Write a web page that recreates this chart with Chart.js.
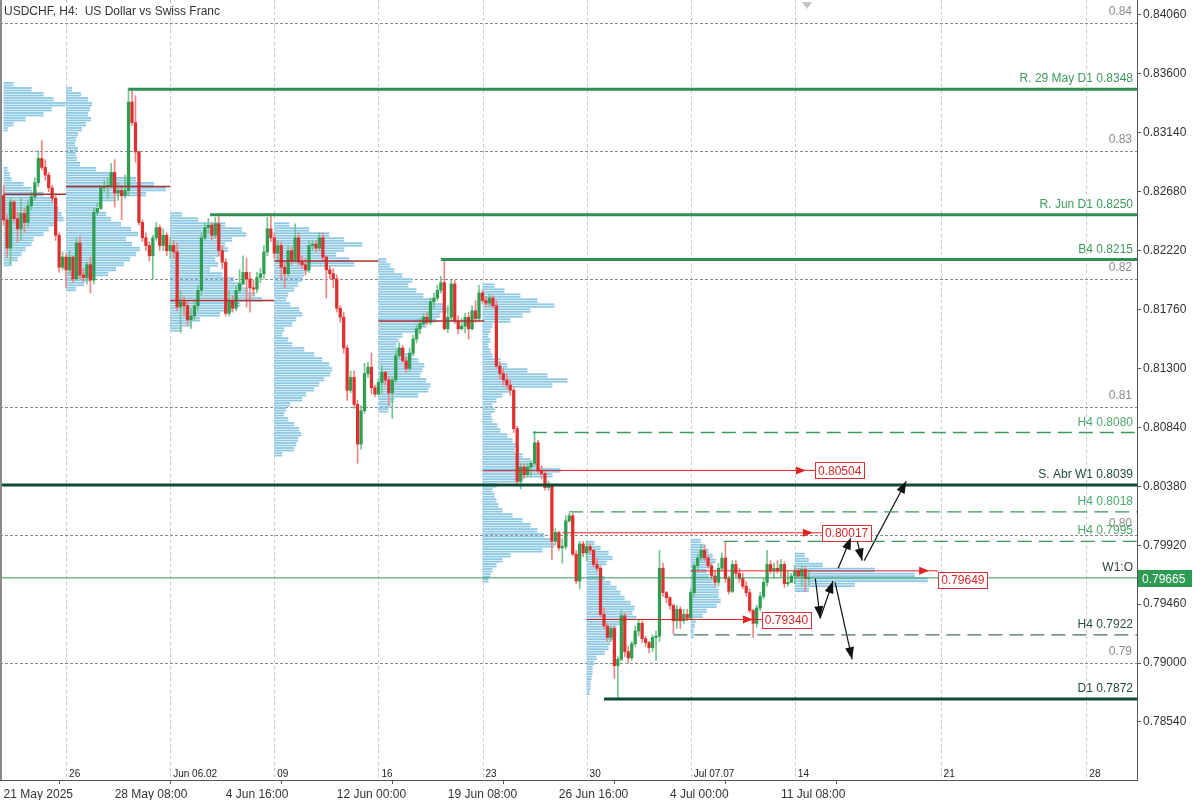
<!DOCTYPE html>
<html>
<head>
<meta charset="utf-8">
<title>USDCHF H4</title>
<script src="https://cdn.jsdelivr.net/npm/chart.js@4.4.0/dist/chart.umd.min.js"></script>
<style>
  html, body { margin: 0; padding: 0; background: #fff; }
  #wrap { width: 1200px; height: 800px; }
</style>
</head>
<body>
<div id="wrap"><canvas id="chart" width="1200" height="800"></canvas></div>
<script>
// ---- candles (H4 bars, index 0 = 21 May 2025 00:00) ----
const firstOpen = 0.8265;
const closes = [
  0.8246, 0.8224, 0.8260, 0.8247, 0.8239, 0.8251, 0.8244, 0.8257, 0.8264, 0.8275,
  0.8294, 0.8287, 0.8281, 0.8271, 0.8263, 0.8234, 0.8209, 0.8217, 0.8207, 0.8217,
  0.8200, 0.8228, 0.8203, 0.8201, 0.8211, 0.8199, 0.8252, 0.8255, 0.8271, 0.8272,
  0.8273, 0.8283, 0.8267, 0.8269, 0.8265, 0.8269, 0.8338, 0.8322, 0.8299, 0.8244,
  0.8232, 0.8226, 0.8218, 0.8232, 0.8240, 0.8226, 0.8234, 0.8222, 0.8226, 0.8221,
  0.8178, 0.8182, 0.8179, 0.8168, 0.8171, 0.8179, 0.8191, 0.8232, 0.8240, 0.8242,
  0.8234, 0.8243, 0.8222, 0.8213, 0.8173, 0.8183, 0.8177, 0.8191, 0.8196, 0.8205,
  0.8200, 0.8193, 0.8192, 0.8201, 0.8204, 0.8221, 0.8239, 0.8232, 0.8220, 0.8226,
  0.8209, 0.8204, 0.8222, 0.8214, 0.8232, 0.8213, 0.8211, 0.8207, 0.8226, 0.8227,
  0.8224, 0.8232, 0.8217, 0.8207, 0.8204, 0.8200, 0.8177, 0.8170, 0.8146, 0.8113,
  0.8123, 0.8102, 0.8071, 0.8097, 0.8126, 0.8131, 0.8115, 0.8110, 0.8119, 0.8127,
  0.8121, 0.8111, 0.8121, 0.8140, 0.8146, 0.8136, 0.8130, 0.8142, 0.8153, 0.8161,
  0.8165, 0.8170, 0.8166, 0.8182, 0.8185, 0.8191, 0.8197, 0.8161, 0.8170, 0.8196,
  0.8167, 0.8161, 0.8163, 0.8170, 0.8161, 0.8175, 0.8169, 0.8189, 0.8183, 0.8181,
  0.8185, 0.8179, 0.8132, 0.8126, 0.8121, 0.8117, 0.8113, 0.8083, 0.8042, 0.8053,
  0.8047, 0.8053, 0.8056, 0.8072, 0.8050, 0.8048, 0.8037, 0.8038, 0.7995, 0.8002,
  0.7990, 0.7991, 0.8011, 0.8015, 0.7985, 0.7964, 0.7993, 0.7986, 0.7991, 0.7988,
  0.7977, 0.7974, 0.7938, 0.7929, 0.7920, 0.7927, 0.7898, 0.7903, 0.7937, 0.7909,
  0.7904, 0.7915, 0.7925, 0.7931, 0.7919, 0.7916, 0.7912, 0.7920, 0.7921, 0.7974,
  0.7955, 0.7951, 0.7945, 0.7933, 0.7942, 0.7933, 0.7938, 0.7935, 0.7955, 0.7976,
  0.7982, 0.7988, 0.7982, 0.7976, 0.7968, 0.7963, 0.7974, 0.7982, 0.7966, 0.7956,
  0.7977, 0.7970, 0.7966, 0.7960, 0.7955, 0.7941, 0.7931, 0.7943, 0.7952, 0.7963,
  0.7977, 0.7972, 0.7974, 0.7972, 0.7977, 0.7962, 0.7963, 0.7968, 0.7972, 0.7968,
  0.7973, 0.7966, 0.79665
];
const highs = [
  0.8273, 0.8250, 0.8263, 0.8261, 0.8252, 0.8263, 0.8255, 0.8261, 0.8268, 0.8279,
  0.8300, 0.8308, 0.8293, 0.8283, 0.8273, 0.8265, 0.8236, 0.8221, 0.8220, 0.8222,
  0.8218, 0.8232, 0.8233, 0.8208, 0.8213, 0.8217, 0.8255, 0.8259, 0.8273, 0.8277,
  0.8279, 0.8290, 0.8293, 0.8275, 0.8273, 0.8281, 0.8349, 0.8348, 0.8343, 0.8300,
  0.8246, 0.8236, 0.8229, 0.8234, 0.8244, 0.8242, 0.8239, 0.8236, 0.8232, 0.8230,
  0.8228, 0.8191, 0.8186, 0.8183, 0.8177, 0.8183, 0.8195, 0.8236, 0.8244, 0.8247,
  0.8244, 0.8248, 0.8250, 0.8226, 0.8216, 0.8191, 0.8187, 0.8195, 0.8207, 0.8218,
  0.8216, 0.8205, 0.8199, 0.8205, 0.8208, 0.8226, 0.8248, 0.8251, 0.8236, 0.8230,
  0.8229, 0.8214, 0.8226, 0.8225, 0.8243, 0.8236, 0.8218, 0.8216, 0.8230, 0.8230,
  0.8230, 0.8236, 0.8236, 0.8218, 0.8210, 0.8208, 0.8203, 0.8179, 0.8174, 0.8148,
  0.8128, 0.8128, 0.8105, 0.8101, 0.8134, 0.8135, 0.8142, 0.8117, 0.8122, 0.8132,
  0.8128, 0.8124, 0.8124, 0.8144, 0.8150, 0.8148, 0.8139, 0.8146, 0.8156, 0.8164,
  0.8169, 0.8173, 0.8174, 0.8185, 0.8189, 0.8195, 0.8202, 0.8216, 0.8179, 0.8199,
  0.8199, 0.8171, 0.8169, 0.8173, 0.8174, 0.8179, 0.8183, 0.8195, 0.8191, 0.8186,
  0.8188, 0.8187, 0.8183, 0.8135, 0.8130, 0.8126, 0.8121, 0.8115, 0.8085, 0.8056,
  0.8056, 0.8056, 0.8058, 0.8081, 0.8074, 0.8054, 0.8050, 0.8042, 0.8038, 0.8005,
  0.8003, 0.7997, 0.8015, 0.8017, 0.8017, 0.7988, 0.7995, 0.7995, 0.7995, 0.7993,
  0.7989, 0.7982, 0.7976, 0.7943, 0.7931, 0.7929, 0.7929, 0.7905, 0.7941, 0.7939,
  0.7913, 0.7917, 0.7929, 0.7934, 0.7933, 0.7921, 0.7917, 0.7922, 0.7925, 0.7988,
  0.7978, 0.7956, 0.7952, 0.7946, 0.7945, 0.7944, 0.7942, 0.7942, 0.7958, 0.7978,
  0.7985, 0.7992, 0.7992, 0.7984, 0.7978, 0.7972, 0.7978, 0.7986, 0.7995, 0.7968,
  0.7980, 0.7980, 0.7974, 0.7970, 0.7964, 0.7958, 0.7942, 0.7945, 0.7955, 0.7966,
  0.7988, 0.7980, 0.7978, 0.7980, 0.7981, 0.7979, 0.7972, 0.7970, 0.7976, 0.7974,
  0.7976, 0.7975, 0.7972
];
const lows = [
  0.8242, 0.8217, 0.8211, 0.8244, 0.8229, 0.8230, 0.8236, 0.8241, 0.8254, 0.8261,
  0.8272, 0.8285, 0.8277, 0.8268, 0.8260, 0.8230, 0.8205, 0.8207, 0.8193, 0.8203,
  0.8197, 0.8199, 0.8200, 0.8197, 0.8196, 0.8189, 0.8196, 0.8250, 0.8254, 0.8268,
  0.8263, 0.8271, 0.8256, 0.8261, 0.8246, 0.8263, 0.8265, 0.8320, 0.8291, 0.8242,
  0.8229, 0.8222, 0.8214, 0.8200, 0.8230, 0.8222, 0.8222, 0.8218, 0.8216, 0.8216,
  0.8175, 0.8158, 0.8171, 0.8164, 0.8161, 0.8168, 0.8175, 0.8187, 0.8230, 0.8236,
  0.8230, 0.8232, 0.8218, 0.8208, 0.8171, 0.8171, 0.8174, 0.8175, 0.8189, 0.8195,
  0.8178, 0.8174, 0.8187, 0.8189, 0.8197, 0.8200, 0.8218, 0.8229, 0.8216, 0.8214,
  0.8200, 0.8193, 0.8202, 0.8211, 0.8213, 0.8211, 0.8208, 0.8203, 0.8205, 0.8222,
  0.8221, 0.8222, 0.8214, 0.8185, 0.8200, 0.8193, 0.8174, 0.8166, 0.8142, 0.8105,
  0.8111, 0.8099, 0.8056, 0.8067, 0.8095, 0.8123, 0.8110, 0.8108, 0.8109, 0.8110,
  0.8117, 0.8101, 0.8091, 0.8119, 0.8138, 0.8135, 0.8127, 0.8128, 0.8140, 0.8150,
  0.8157, 0.8163, 0.8164, 0.8164, 0.8177, 0.8183, 0.8189, 0.8160, 0.8158, 0.8167,
  0.8165, 0.8157, 0.8160, 0.8158, 0.8153, 0.8160, 0.8166, 0.8167, 0.8181, 0.8178,
  0.8178, 0.8177, 0.8130, 0.8122, 0.8117, 0.8114, 0.8109, 0.8080, 0.8040, 0.8036,
  0.8044, 0.8045, 0.8046, 0.8054, 0.8048, 0.8044, 0.8035, 0.8035, 0.7981, 0.7992,
  0.7988, 0.7978, 0.7989, 0.8010, 0.7984, 0.7962, 0.7958, 0.7983, 0.7980, 0.7985,
  0.7975, 0.7972, 0.7936, 0.7927, 0.7917, 0.7917, 0.7888, 0.7873, 0.7902, 0.7905,
  0.7900, 0.7902, 0.7913, 0.7921, 0.7916, 0.7913, 0.7908, 0.7909, 0.7902, 0.7917,
  0.7952, 0.7947, 0.7942, 0.7923, 0.7927, 0.7927, 0.7931, 0.7933, 0.7934, 0.7952,
  0.7972, 0.7980, 0.7980, 0.7974, 0.7966, 0.7960, 0.7960, 0.7972, 0.7963, 0.7954,
  0.7955, 0.7967, 0.7963, 0.7958, 0.7952, 0.7939, 0.7920, 0.7928, 0.7941, 0.7950,
  0.7960, 0.7970, 0.7966, 0.7970, 0.7967, 0.7959, 0.7960, 0.7963, 0.7962, 0.7966,
  0.7960, 0.7956, 0.7961
];
const opens = closes.map((c, i) => (i === 0 ? firstOpen : closes[i - 1]));

// ---- axes ----
const timeTicks = [0, 32, 64, 96, 128, 160, 192, 224];
const timeLabels = ['21 May 2025', '28 May 08:00', '4 Jun 16:00', '12 Jun 00:00', '19 Jun 08:00', '26 Jun 16:00', '4 Jul 00:00', '11 Jul 08:00'];
const weekStarts = [18, 48, 78, 108, 138, 168, 198, 228, 270, 312];
const weekLabels = ['26', 'Jun 06.02', '09', '16', '23', '30', 'Jul 07.07', '14', '21', '28'];
const priceTicks = [0.8406, 0.8360, 0.8314, 0.8268, 0.8222, 0.8176, 0.8130, 0.8084, 0.8038, 0.7992, 0.7946, 0.7900, 0.7854];
const roundLevels = [0.84, 0.83, 0.82, 0.81, 0.80, 0.79];
const roundLabels = ['0.84', '0.83', '0.82', '0.81', '0.80', '0.79'];
const lastPrice = 0.79665;

// ---- drawn levels ----
const levelPrices = [0.8348, 0.8250, 0.8215, 0.8080, 0.8039, 0.8018, 0.7995, 0.79665, 0.7922, 0.7872];
const levelStarts = [36, 59.5, 126, 152.5, -3, 163, 207.5, -3, 193, 173];
const levelLabels = ['R. 29 May D1 0.8348', 'R. Jun D1 0.8250', 'B4 0.8215', 'H4 0.8080', 'S. Abr W1 0.8039', 'H4 0.8018', 'H4 0.7995', 'W1:O', 'H4 0.7922', 'D1 0.7872'];
const levelKinds = ['res', 'res', 'res', 'h4', 'sup', 'h4', 'h4', 'open', 'h4dark', 'sup'];

// weekly point of control lines
const pocPrices = [0.8266, 0.8272, 0.8183, 0.8214, 0.8167];
const pocFrom = [0, 18, 48, 78, 108];
const pocTo = [18, 48, 78, 108, 138.5];

// red price markers
const markPrices = [0.80504, 0.80017, 0.7972, 0.79340];
const markLabelPrices = [0.80504, 0.80017, 0.79649, 0.79340];
const markLabels = ['0.80504', '0.80017', '0.79649', '0.79340'];
const markFrom = [138, 161, 198, 168];
const markTo = [233.8, 235.8, 269.3, 218.5];

// projected path arrows [barFrom, priceFrom, barTo, priceTo]
const arrows = [
  [233.9, 0.7966, 235.3, 0.7935],
  [235.3, 0.7935, 239.0, 0.7964],
  [239.6, 0.7963, 244.5, 0.7903],
  [240.5, 0.7974, 244.2, 0.7998],
  [245.9, 0.7996, 247.4, 0.7980],
  [248.0, 0.7980, 260.1, 0.8042]
];

// ---- volume profiles (start bar, top price, volumes per bin from top) ----
const profileStarts = [0, 18, 48, 78, 108, 138, 168, 198, 228];
const profileTops = [0.83536, 0.83497, 0.82519, 0.82441, 0.82160, 0.81964, 0.79954, 0.79970, 0.79861];
const vp1 = [10, 28, 40, 50, 62, 48, 40, 22, 10, 4, 0, 0, 0, 0, 0, 0, 0, 4, 6, 8, 20, 28, 40, 50, 52, 55, 58, 60, 52, 45, 40, 30, 28, 22, 18, 14, 8];
const vp2 = [6, 15, 22, 26, 24, 22, 25, 20, 16, 12, 10, 9, 12, 10, 11, 14, 30, 48, 70, 88, 100, 80, 50, 35, 30, 40, 45, 55, 65, 72, 60, 66, 74, 70, 64, 58, 50, 42, 25, 18, 10];
const vp3 = [12, 28, 55, 72, 76, 62, 55, 58, 50, 45, 48, 40, 52, 64, 72, 78, 85, 92, 70, 62, 50, 30, 22, 12];
const vp4 = [15, 35, 55, 70, 88, 70, 62, 75, 80, 35, 30, 28, 24, 20, 14, 12, 16, 25, 28, 22, 18, 10, 8, 14, 18, 30, 40, 48, 55, 58, 56, 50, 45, 40, 32, 28, 16, 12, 10, 14, 20, 25, 27, 24, 22, 20, 8];
const vp5 = [8, 12, 16, 24, 34, 30, 38, 45, 55, 65, 70, 62, 58, 48, 42, 24, 20, 18, 26, 34, 40, 46, 44, 42, 48, 52, 50, 40, 16, 12, 10];
const vp6 = [12, 22, 38, 55, 72, 48, 40, 28, 10, 8, 6, 8, 6, 8, 10, 18, 25, 45, 65, 85, 70, 28, 20, 14, 10, 12, 9, 10, 15, 18, 25, 30, 35, 32, 40, 48, 55, 78, 70, 40, 14, 10, 12, 14, 16, 20, 30, 40, 48, 55, 62, 70, 72, 60, 28, 20, 14, 10, 8, 6];
const vp7 = [8, 14, 22, 26, 20, 14, 12, 18, 24, 30, 34, 38, 44, 48, 46, 50, 34, 30, 30, 28, 24, 22, 18, 10, 8, 6, 6, 5, 4, 4, 3];
const vp8 = [10, 14, 18, 22, 25, 20, 16, 18, 22, 26, 28, 28, 30, 26, 16, 12, 5, 4, 3, 3];
const vp9 = [10, 14, 28, 80, 120, 133, 60, 14];
const profileVols = [vp1, vp2, vp3, vp4, vp5, vp6, vp7, vp8, vp9];

// ---- look ----
const X_MIN = -1.04, X_MAX = 326.6;
const Y_MIN = 0.78087, Y_MAX = 0.84177;
const PROFILE_STEP = 0.00039;
const VOL_TO_BARS = 0.288;
const FONT = '"Liberation Sans", Arial, sans-serif';
const UP = '#2f9e50', DOWN = '#df2f2f', UP_WICK = '#74c48f', DOWN_WICK = '#ef8484';
const levelStyle = {
  res: { line: '#2f8f52', width: 3, dash: [], text: '#3d9a5c' },
  h4: { line: '#3a9a5e', width: 1.3, dash: [14, 7], text: '#4aa86b' },
  sup: { line: '#0f4a36', width: 3, dash: [], text: '#1d4a3a' },
  open: { line: '#2f9a55', width: 1, dash: [], text: '#2f3f3a' },
  h4dark: { line: '#4a6e62', width: 1.3, dash: [14, 7], text: '#2f4f45' }
};

Chart.defaults.font.family = FONT;
Chart.defaults.font.size = 12;
Chart.defaults.color = '#333';

const datasets = [];
levelPrices.forEach((p, i) => {
  const st = levelStyle[levelKinds[i]];
  datasets.push({
    type: 'line', data: [{ x: levelStarts[i], y: p }, { x: X_MAX + 5, y: p }],
    borderColor: st.line, borderWidth: st.width, borderDash: st.dash, pointRadius: 0, order: 0
  });
});
arrows.forEach(a => {
  datasets.push({
    type: 'line', data: [{ x: a[0], y: a[1] }, { x: a[2], y: a[3] }],
    borderColor: '#111', borderWidth: 1.2, pointRadius: 0, order: 0
  });
});
markPrices.forEach((p, i) => {
  datasets.push({
    type: 'line', data: [{ x: markFrom[i], y: p }, { x: markTo[i], y: p }],
    borderColor: '#e02424', borderWidth: 1, pointRadius: 0, order: 1
  });
});
pocPrices.forEach((p, i) => {
  datasets.push({
    type: 'line', data: [{ x: pocFrom[i], y: p }, { x: pocTo[i], y: p }],
    borderColor: '#a83232', borderWidth: 1.5, pointRadius: 0, order: 1
  });
});
datasets.push({
  type: 'bar', data: closes.map((c, i) => ({ x: i, y: [opens[i], c] })),
  backgroundColor: closes.map((c, i) => (c >= opens[i] ? UP : DOWN)),
  barThickness: 2.6, minBarLength: 1, grouped: false, order: 2
});
datasets.push({
  type: 'bar', data: closes.map((c, i) => ({ x: i, y: [lows[i], highs[i]] })),
  backgroundColor: closes.map((c, i) => (c >= opens[i] ? UP_WICK : DOWN_WICK)),
  barThickness: 1, grouped: false, order: 3
});

function arrowHead(ctx, x0, y0, x1, y1, len, half) {
  const ang = Math.atan2(y1 - y0, x1 - x0);
  ctx.beginPath();
  ctx.moveTo(x1, y1);
  ctx.lineTo(x1 - len * Math.cos(ang) + half * Math.sin(ang), y1 - len * Math.sin(ang) - half * Math.cos(ang));
  ctx.lineTo(x1 - len * Math.cos(ang) - half * Math.sin(ang), y1 - len * Math.sin(ang) + half * Math.cos(ang));
  ctx.closePath();
  ctx.fill();
}

const backdrop = {
  id: 'backdrop',
  beforeDatasetsDraw(chart) {
    const { ctx, chartArea: a } = chart;
    const xs = chart.scales.x, ys = chart.scales.y;
    ctx.save();
    ctx.beginPath();
    ctx.rect(a.left, a.top, a.right - a.left, a.bottom - a.top);
    ctx.clip();
    ctx.lineWidth = 1;
    ctx.strokeStyle = '#c8c8c8';
    ctx.setLineDash([3, 3]);
    weekStarts.forEach(w => {
      const x = Math.round(xs.getPixelForValue(w)) + 0.5;
      ctx.beginPath(); ctx.moveTo(x, a.top); ctx.lineTo(x, a.bottom); ctx.stroke();
    });
    ctx.strokeStyle = '#8a8a8a';
    ctx.setLineDash([3, 2]);
    roundLevels.forEach(p => {
      const y = Math.round(ys.getPixelForValue(p)) + 0.5;
      ctx.beginPath(); ctx.moveTo(a.left, y); ctx.lineTo(a.right, y); ctx.stroke();
    });
    ctx.setLineDash([]);
    ctx.fillStyle = '#8cc8e5';
    profileVols.forEach((vols, j) => {
      const start = profileStarts[j], top = profileTops[j];
      const x0 = xs.getPixelForValue(start);
      vols.forEach((v, k) => {
        if (!v) return;
        const y0 = ys.getPixelForValue(top - k * PROFILE_STEP);
        const y1 = ys.getPixelForValue(top - (k + 1) * PROFILE_STEP);
        const w = xs.getPixelForValue(start + v * VOL_TO_BARS) - x0;
        const h = (y1 - y0) / 2;
        ctx.fillRect(x0, y0, w, h - 0.7);
        ctx.fillRect(x0, y0 + h, w, h - 0.7);
      });
    });
    ctx.restore();
  },
  afterDatasetsDraw(chart) {
    const { ctx, chartArea: a } = chart;
    const xs = chart.scales.x, ys = chart.scales.y;
    ctx.save();
    // left frame
    ctx.fillStyle = '#8a8a8a';
    ctx.fillRect(0, 0, 2, a.bottom);
    // title
    ctx.font = '12px ' + FONT;
    ctx.fillStyle = '#333';
    ctx.textAlign = 'left';
    ctx.fillText('USDCHF, H4:  US Dollar vs Swiss Franc', 4, 15);
    // round level labels
    ctx.textAlign = 'right';
    ctx.fillStyle = '#8a8a8a';
    roundLevels.forEach((p, i) => ctx.fillText(roundLabels[i], a.right - 5, ys.getPixelForValue(p) - 8));
    // level labels
    levelPrices.forEach((p, i) => {
      ctx.fillStyle = levelStyle[levelKinds[i]].text;
      ctx.fillText(levelLabels[i], a.right - 4, ys.getPixelForValue(p) - 7);
    });
    // week labels
    ctx.font = '10px ' + FONT;
    ctx.fillStyle = '#222';
    ctx.textAlign = 'left';
    weekStarts.forEach((w, i) => ctx.fillText(weekLabels[i], xs.getPixelForValue(w) + 3, a.bottom - 3));
    // red markers
    ctx.font = '12px ' + FONT;
    markPrices.forEach((p, i) => {
      const xb = xs.getPixelForValue(markTo[i]);
      const y = ys.getPixelForValue(p);
      const yl = ys.getPixelForValue(markLabelPrices[i]);
      ctx.fillStyle = '#e02424';
      arrowHead(ctx, xb - 30, y, xb - 9, y, 10, 4);
      const tw = ctx.measureText(markLabels[i]).width;
      ctx.fillStyle = '#fff';
      ctx.fillRect(xb, yl - 8, tw + 6, 16);
      ctx.strokeStyle = '#d83030';
      ctx.lineWidth = 1;
      ctx.strokeRect(Math.round(xb) + 0.5, Math.round(yl - 8) + 0.5, Math.round(tw + 6), 16);
      ctx.fillStyle = '#d82828';
      ctx.textAlign = 'left';
      ctx.fillText(markLabels[i], xb + 3, yl + 4.5);
    });
    // projected path heads
    ctx.fillStyle = '#111';
    arrows.forEach(r => {
      arrowHead(ctx, xs.getPixelForValue(r[0]), ys.getPixelForValue(r[1]),
        xs.getPixelForValue(r[2]), ys.getPixelForValue(r[3]), 12, 4.5);
    });
    // chart shift marker
    const sx = xs.getPixelForValue(231.5);
    ctx.fillStyle = '#c4c4c4';
    ctx.beginPath(); ctx.moveTo(sx - 5, 2); ctx.lineTo(sx + 5, 2); ctx.lineTo(sx, 9); ctx.closePath(); ctx.fill();
    ctx.restore();
  },
  afterDraw(chart) {
    const { ctx, chartArea: a } = chart;
    const y = chart.scales.y.getPixelForValue(lastPrice);
    ctx.save();
    ctx.fillStyle = '#2e9b55';
    ctx.fillRect(a.right + 1, Math.round(y) - 8, 54, 17);
    ctx.fillStyle = '#fff';
    ctx.font = '12px ' + FONT;
    ctx.textAlign = 'left';
    ctx.fillText(lastPrice.toFixed(5), a.right + 5, Math.round(y) + 4.5);
    ctx.restore();
  }
};

new Chart(document.getElementById('chart'), {
  type: 'bar',
  data: { datasets },
  options: {
    responsive: false,
    animation: false,
    devicePixelRatio: 1,
    layout: { padding: 0 },
    plugins: { legend: { display: false }, tooltip: { enabled: false } },
    scales: {
      x: {
        type: 'linear', min: X_MIN, max: X_MAX, offset: false,
        afterFit: s => { s.height = 20; s.paddingLeft = 0; s.paddingRight = 0; },
        afterBuildTicks: s => { s.ticks = timeTicks.map(v => ({ value: v })); },
        ticks: {
          autoSkip: false, maxRotation: 0, align: 'start', padding: 3, color: '#333',
          callback: v => timeLabels[timeTicks.indexOf(v)]
        },
        grid: { drawOnChartArea: false, drawTicks: true, tickLength: 4, color: '#555' },
        border: { color: '#555' }
      },
      y: {
        type: 'linear', position: 'right', min: Y_MIN, max: Y_MAX,
        afterFit: s => { s.width = 63; s.paddingTop = 0; s.paddingBottom = 0; },
        afterBuildTicks: s => { s.ticks = priceTicks.map(v => ({ value: v })); },
        ticks: { padding: 2, color: '#333', callback: v => v.toFixed(5) },
        grid: { drawOnChartArea: false, drawTicks: true, tickLength: 4, color: '#555' },
        border: { color: '#555' }
      }
    }
  },
  plugins: [backdrop]
});
</script>
</body>
</html>
